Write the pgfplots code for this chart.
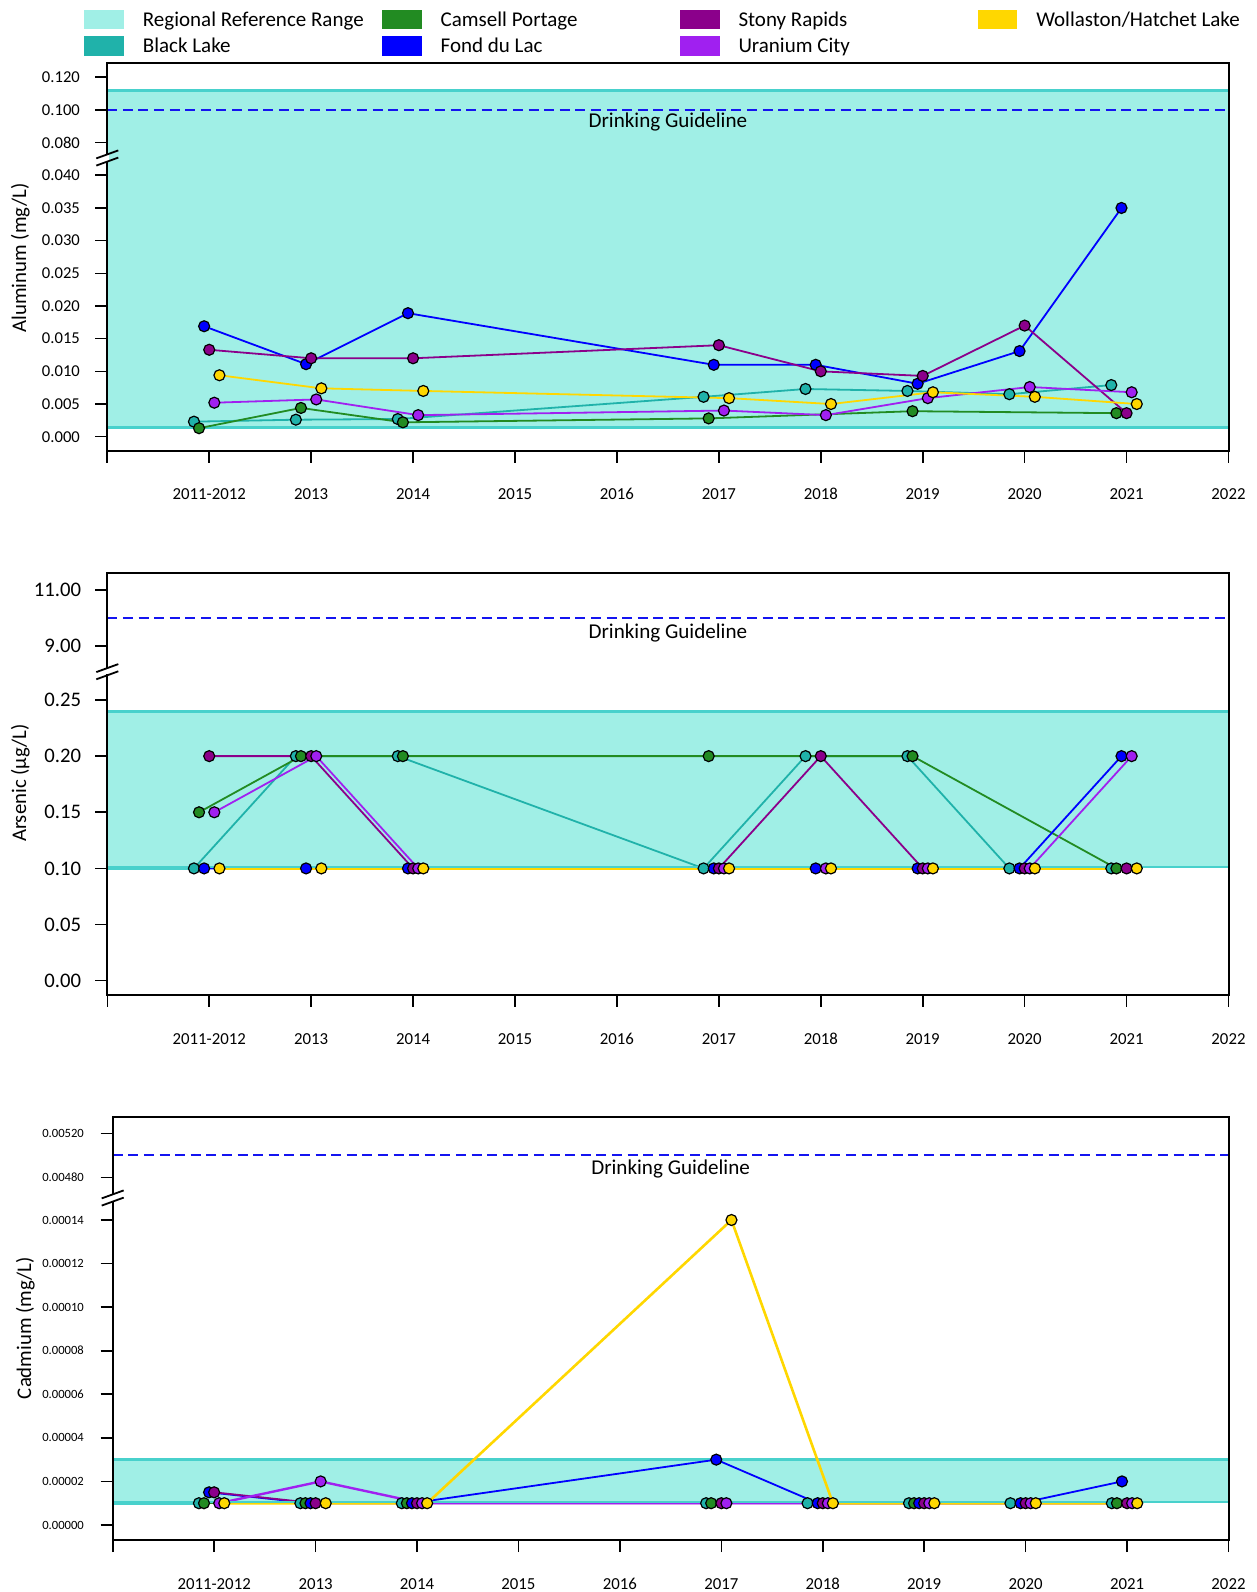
\documentclass[border=0pt]{standalone}
\usepackage{fontspec}
\setmainfont{Carlito}
\usepackage{pgfplots}
\pgfplotsset{compat=1.18}
\definecolor{rrfill}{HTML}{A0EFE6}
\definecolor{rrline}{HTML}{48D1CC}
\definecolor{bl}{HTML}{20B2AA}
\definecolor{cp}{HTML}{228B22}
\definecolor{fdl}{HTML}{0000FF}
\definecolor{sr}{HTML}{8B008B}
\definecolor{uc}{HTML}{A020F0}
\definecolor{wh}{HTML}{FFD700}
\definecolor{guide}{HTML}{1414F0}
\pgfplotsset{
  ser/.style={color=#1, line width=0.9pt, mark=*, mark size=2.75pt, mark options={solid, draw=black, fill=#1, line width=0.6pt}},
  base/.style={scale only axis, xmin=0, xmax=11, axis line style={draw=none}, tick align=outside,
    major tick length=6pt, tick style={black, line width=0.8pt}, xtick pos=bottom, ytick pos=left,
    scaled y ticks=false, scaled x ticks=false, /pgf/number format/assume math mode=true},
  lowx/.style={xtick={0,1,2,3,4,5,6,7,8,9,10,11},
    xticklabels={,2011-2012,2013,2014,2015,2016,2017,2018,2019,2020,2021,2022},
    xticklabel style={font=\fontsize{8.4}{10}\selectfont, text height=5.6pt, text depth=0pt, anchor=north, yshift=-9.5pt}},
  upx/.style={xtick=\empty},
  guideline/.style={guide, line width=1pt, dash pattern=on 5pt off 2.8pt, forget plot},
  rrborder/.style={rrline, line width=1.4pt, forget plot},
  leg/.style={legend image code/.code={\fill[#1] (0pt,-4.575pt) rectangle (19.3pt,4.575pt); \path (28.9pt,0pt);}},
}
\newcommand{\brk}[1]{\begin{scope}[shift={(#1)}]
  \fill[white] (-0.7pt,-1.4pt) rectangle (0.7pt,1.4pt);
  \draw[line width=0.9pt] (-5.5pt,-3.8pt) -- (5.5pt,0.2pt);
  \draw[line width=0.9pt] (-5.5pt,-0.2pt) -- (5.5pt,3.8pt);
\end{scope}}
\newcommand{\legtext}[1]{\makebox[119.6pt][l]{\rule[-1.3pt]{0pt}{9.15pt}#1}}
\begin{document}
\begin{tikzpicture}
\useasboundingbox (0,0) rectangle (628.5pt,796pt);
% ================= Panel 1: Aluminum =================
\begin{axis}[base, lowx, name=p1low, at={(53.65pt,570.65pt)}, anchor=south west,
  width=560.6pt, height=146.35pt, ymin=-0.002142, ymax=0.042647,
  ytick={0,0.005,0.01,0.015,0.02,0.025,0.03,0.035,0.04},
  yticklabels={0.000,0.005,0.010,0.015,0.020,0.025,0.030,0.035,0.040},
  yticklabel style={font=\fontsize{8.3}{10}\selectfont, xshift=-4.2pt}]
\addplot[draw=none, fill=rrfill, forget plot] coordinates {(0,0.0014) (11,0.0014) (11,0.05) (0,0.05)} -- cycle;
\addplot[rrborder] coordinates {(0,0.0014) (11,0.0014)};
\addplot[ser=bl] coordinates {(0.85,0.0023) (1.85,0.0026) (2.85,0.0027) (5.85,0.0061) (6.85,0.0073) (7.85,0.0070) (8.85,0.0065) (9.85,0.0079)};
\addplot[ser=cp] coordinates {(0.90,0.0013) (1.90,0.0044) (2.90,0.0022) (5.90,0.0028) (7.90,0.0039) (9.90,0.0036)};
\addplot[ser=fdl] coordinates {(0.95,0.0169) (1.95,0.0111) (2.95,0.0189) (5.95,0.0110) (6.95,0.0110) (7.95,0.0081) (8.95,0.0131) (9.95,0.0350)};
\addplot[ser=sr] coordinates {(1,0.0133) (2,0.0120) (3,0.0120) (6,0.0140) (7,0.0100) (8,0.0093) (9,0.0170) (10,0.0036)};
\addplot[ser=uc] coordinates {(1.05,0.0052) (2.05,0.0057) (3.05,0.0033) (6.05,0.0040) (7.05,0.0033) (8.05,0.0059) (9.05,0.0076) (10.05,0.0068)};
\addplot[ser=wh] coordinates {(1.10,0.0094) (2.10,0.0074) (3.10,0.0070) (6.10,0.0059) (7.10,0.0050) (8.10,0.0068) (9.10,0.0061) (10.10,0.0050)};
\end{axis}
\begin{axis}[base, upx, name=p1up, at={(53.65pt,717pt)}, anchor=south west,
  width=560.6pt, height=47.65pt, ymin=0.070642, ymax=0.12893,
  ytick={0.08,0.1,0.12}, yticklabels={0.080,0.100,0.120},
  yticklabel style={font=\fontsize{8.3}{10}\selectfont, xshift=-4.2pt},
  legend columns=4, legend cell align=left,
  legend style={draw=none, fill=none, inner sep=0pt, outer sep=0pt, column sep=0pt, row sep=3.55pt,
    nodes={inner sep=0pt, outer sep=0pt}, font=\fontsize{10.5}{12}\selectfont,
    at={(-0.020514,1.55089)}, anchor=north west}]
\addlegendimage{leg=rrfill}\addlegendentry{\legtext{Regional Reference Range}}
\addlegendimage{leg=cp}\addlegendentry{\legtext{Camsell Portage}}
\addlegendimage{leg=sr}\addlegendentry{\legtext{Stony Rapids}}
\addlegendimage{leg=wh}\addlegendentry{\legtext{Wollaston/Hatchet Lake}}
\addlegendimage{leg=bl}\addlegendentry{\legtext{Black Lake}}
\addlegendimage{leg=fdl}\addlegendentry{\legtext{Fond du Lac}}
\addlegendimage{leg=uc}\addlegendentry{\legtext{Uranium City}}
\addplot[draw=none, fill=rrfill, forget plot] coordinates {(0,0.06) (11,0.06) (11,0.112) (0,0.112)} -- cycle;
\addplot[rrborder] coordinates {(0,0.112) (11,0.112)};
\addplot[guideline] coordinates {(0,0.1) (11,0.1)};
\node[font=\fontsize{10.55}{12}\selectfont] at (axis cs:5.5,0.1) [yshift=-5.85pt] {Drinking Guideline};
\end{axis}
\draw[line width=1pt] (p1low.south west) rectangle (p1up.north east);
\brk{p1low.north west}
\node[rotate=90, font=\fontsize{10.4}{12}\selectfont] at (10.15pt,667pt) {Aluminum (mg/L)};
% ================= Panel 2: Arsenic =================
\begin{axis}[base, lowx, name=p2low, at={(53.65pt,298.5pt)}, anchor=south west,
  width=560.6pt, height=161.65pt, ymin=-0.012736, ymax=0.2752,
  ytick={0,0.05,0.1,0.15,0.2,0.25},
  yticklabels={0.00,0.05,0.10,0.15,0.20,0.25},
  yticklabel style={font=\fontsize{10.35}{12}\selectfont, xshift=-3.55pt}]
\addplot[draw=none, fill=rrfill, forget plot] coordinates {(0,0.10) (11,0.10) (11,0.24) (0,0.24)} -- cycle;
\addplot[rrborder] coordinates {(0,0.24) (11,0.24)};
\addplot[ser=bl] coordinates {(0.85,0.10) (1.85,0.20) (2.85,0.20) (5.85,0.10) (6.85,0.20) (7.85,0.20) (8.85,0.10) (9.85,0.10)};
\addplot[ser=cp] coordinates {(0.90,0.15) (1.90,0.20) (2.90,0.20) (5.90,0.20) (7.90,0.20) (9.90,0.10)};
\addplot[ser=fdl] coordinates {(0.95,0.10) (1.95,0.10) (2.95,0.10) (5.95,0.10) (6.95,0.10) (7.95,0.10) (8.95,0.10) (9.95,0.20)};
\addplot[ser=sr] coordinates {(1,0.20) (2,0.20) (3,0.10) (6,0.10) (7,0.20) (8,0.10) (9,0.10) (10,0.10)};
\addplot[ser=uc] coordinates {(1.05,0.15) (2.05,0.20) (3.05,0.10) (6.05,0.10) (7.05,0.10) (8.05,0.10) (9.05,0.10) (10.05,0.20)};
\addplot[ser=wh, line width=1.3pt] coordinates {(1.10,0.10) (2.10,0.10) (3.10,0.10) (6.10,0.10) (7.10,0.10) (8.10,0.10) (9.10,0.10) (10.10,0.10)};
\addplot[rrline, line width=0.8pt, forget plot] coordinates {(0,0.1014) (11,0.1014)};
\addplot[rrline, line width=1.4pt, forget plot] coordinates {(0,0.10) (0.8,0.10)};
\end{axis}
\begin{axis}[base, upx, name=p2up, at={(53.65pt,460.15pt)}, anchor=south west,
  width=560.6pt, height=49.2pt, ymin=8.082, ymax=11.596,
  ytick={9,11}, yticklabels={9.00,11.00},
  yticklabel style={font=\fontsize{10.35}{12}\selectfont, xshift=-3.55pt}]
\addplot[guideline] coordinates {(0,10) (11,10)};
\node[font=\fontsize{10.55}{12}\selectfont] at (axis cs:5.5,10) [yshift=-7.3pt] {Drinking Guideline};
\end{axis}
\draw[line width=1pt] (p2low.south west) rectangle (p2up.north east);
\brk{p2low.north west}
\node[rotate=90, font=\fontsize{10.4}{12}\selectfont] at (10.15pt,404.5pt) {Arsenic (µg/L)};
% ================= Panel 3: Cadmium =================
\begin{axis}[base, lowx, name=p3low, at={(56.35pt,26pt)}, anchor=south west,
  width=557.9pt, height=171pt, ymin=-0.00000689, ymax=0.0001501,
  ytick={0,0.00002,0.00004,0.00006,0.00008,0.0001,0.00012,0.00014},
  yticklabels={0.00000,0.00002,0.00004,0.00006,0.00008,0.00010,0.00012,0.00014},
  yticklabel style={font=\fontsize{6.3}{8}\selectfont, xshift=-4.9pt}]
\addplot[draw=none, fill=rrfill, forget plot] coordinates {(0,0.00001) (11,0.00001) (11,0.00003) (0,0.00003)} -- cycle;
\addplot[rrborder] coordinates {(0,0.00003) (11,0.00003)};
\addplot[ser=bl] coordinates {(0.85,0.00001) (1.85,0.00001) (2.85,0.00001) (5.85,0.00001) (6.85,0.00001) (7.85,0.00001) (8.85,0.00001) (9.85,0.00001)};
\addplot[ser=cp] coordinates {(0.90,0.00001) (1.90,0.00001) (2.90,0.00001) (5.90,0.00001) (7.90,0.00001) (9.90,0.00001)};
\addplot[ser=fdl] coordinates {(0.95,0.000015) (1.95,0.00001) (2.95,0.00001) (5.95,0.00003) (6.95,0.00001) (7.95,0.00001) (8.95,0.00001) (9.95,0.00002)};
\addplot[ser=sr] coordinates {(1,0.000015) (2,0.00001) (3,0.00001) (6,0.00001) (7,0.00001) (8,0.00001) (9,0.00001) (10,0.00001)};
\addplot[ser=uc, line width=1.2pt] coordinates {(1.05,0.00001) (2.05,0.00002) (3.05,0.00001) (6.05,0.00001) (7.05,0.00001) (8.05,0.00001) (9.05,0.00001) (10.05,0.00001)};
\addplot[ser=wh, line width=1.3pt] coordinates {(1.10,0.00001) (2.10,0.00001) (3.10,0.00001) (6.10,0.00014) (7.10,0.00001) (8.10,0.00001) (9.10,0.00001) (10.10,0.00001)};
\addplot[rrline, line width=0.8pt, forget plot] coordinates {(0,0.0000106) (11,0.0000106)};
\addplot[rrline, line width=1.4pt, forget plot] coordinates {(0,0.00001) (0.8,0.00001)};
\end{axis}
\begin{axis}[base, upx, name=p3up, at={(56.35pt,197pt)}, anchor=south west,
  width=557.9pt, height=40.35pt, ymin=0.004612, ymax=0.0053455,
  ytick={0.0048,0.0052}, yticklabels={0.00480,0.00520},
  yticklabel style={font=\fontsize{6.3}{8}\selectfont, xshift=-4.9pt}]
\addplot[guideline] coordinates {(0,0.005) (11,0.005)};
\node[font=\fontsize{10.55}{12}\selectfont] at (axis cs:5.5,0.005) [yshift=-6.85pt] {Drinking Guideline};
\end{axis}
\draw[line width=1pt] (p3low.south west) rectangle (p3up.north east);
\brk{p3low.north west}
\node[rotate=90, font=\fontsize{10.4}{12}\selectfont] at (12.7pt,132pt) {Cadmium (mg/L)};
\end{tikzpicture}
\end{document}
